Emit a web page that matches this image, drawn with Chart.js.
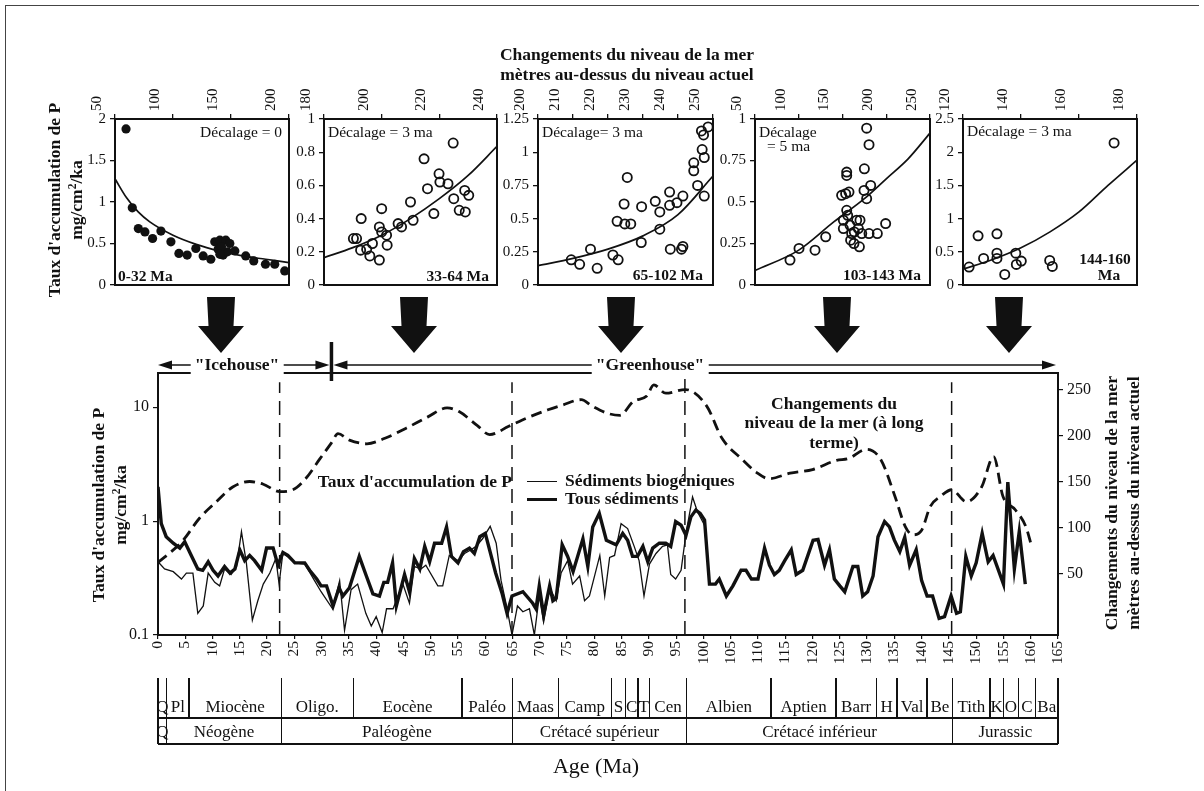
<!DOCTYPE html>
<html lang="fr">
<head>
<meta charset="utf-8">
<title>Taux d'accumulation de P et niveau de la mer</title>
<script src="https://cdn.jsdelivr.net/npm/chart.js@4.4.1/dist/chart.umd.min.js"></script>
<style>
  html, body { margin:0; padding:0; background:#fff; }
  #page { position:relative; width:1204px; height:791px; overflow:hidden; background:#fff;
          font-family:"Liberation Serif","Times New Roman",serif; color:#111; }
  #page canvas { position:absolute; }
  .txt { position:absolute; white-space:nowrap; line-height:1; }
  .bold { font-weight:bold; }
  sup { font-size:0.66em; line-height:0; vertical-align:0.55em; }
  .rule { position:absolute; background:#111; }
  svg.overlay { position:absolute; left:0; top:0; }
</style>
</head>
<body>
<div id="page"></div>
<script>
// ---------- main record: sea level (m) vs age (Ma) ----------
const seaAge = [0,2.1,4.6,7.6,10.7,13.7,16.8,19.3,22.3,24.7,27.2,29.6,31.8,33,35.1,38.3,41.6,45.5,49.4,53,55.2,58.5,60.8,64.3,67.6,71.5,74.1,77.6,79.6,82.5,84.7,87.1,89.6,90.9,93.1,96.7,100.6,103.4,107.1,109.7,112,115.9,120,124.4,126.6,129.9,132.5,135.1,137,138.4,140,141.6,143.5,145.5,148.2,151,153.2,154.9,157.2,159.1,160.1];
const seaLevel = [62,72,86,110,128,144,150,147,139,141,154,174,192,202,195,191,197,208,220,230,226,211,201,210,219,228,233,239,232,224,222,237,243,255,246,250,232,197,174,160,153,159,163,173,175,185,174,134,101,92,97,123,134,141,128,144,177,134,119,101,81];

// ---------- P accumulation rate (mg/cm2/ka), biogenic sediments ----------
const thinAge = [0,1.2,2.8,4.3,5.2,6.4,7.3,8.3,9.2,10.4,11.3,12.2,13.4,14.4,15.3,16.2,17.3,18.3,19.3,20.5,21.6,22.2,22.9,25.1,26.9,28.7,29.9,32.0,33.3,34.2,35.4,36.6,38.1,39.1,40.0,41.1,41.9,43.1,44.0,44.9,46.1,47.0,48.2,49.1,51.3,52.2,53.4,55.0,56.2,57.4,58.3,59.5,60.9,62.0,62.9,63.9,64.9,65.9,66.9,68.1,69.0,69.9,70.7,71.8,73.0,73.9,75.1,76.0,77.3,78.2,79.1,81.0,81.9,82.8,83.7,84.9,86.1,87.3,88.2,89.1,90.1,91.3,92.5,93.4,94.0,94.9,95.9,96.8,98.0,98.9,100.2,101.1];
const thinRate = [0.44,0.38,0.36,0.31,0.35,0.35,0.155,0.18,0.35,0.29,0.27,0.38,0.34,0.40,0.81,0.43,0.135,0.20,0.28,0.35,0.47,0.28,0.53,0.43,0.42,0.30,0.24,0.17,0.30,0.11,0.25,0.28,0.155,0.12,0.145,0.105,0.17,0.17,0.22,0.28,0.19,0.40,0.38,0.41,0.27,0.27,0.50,0.45,0.52,0.56,0.60,0.70,0.90,0.64,0.30,0.18,0.10,0.18,0.16,0.17,0.10,0.22,0.13,0.26,0.20,0.35,0.45,0.28,0.33,0.20,0.22,0.50,0.22,0.48,0.50,0.95,0.86,0.60,0.45,0.22,0.42,0.52,0.60,0.62,0.34,0.31,0.37,0.78,1.63,1.21,0.92,0.28];

// ---------- P accumulation rate (mg/cm2/ka), all sediments ----------
const thickAge = [0,0.6,1.5,2.8,4.0,4.9,6.1,7.3,8.2,9.2,10.1,11.0,12.2,13.2,14.1,15.0,15.9,16.8,17.7,19.0,19.9,21.1,22.0,22.9,23.8,25.1,26.9,27.8,29.1,29.9,30.9,32.1,33.2,33.9,35.1,36.9,38.2,39.4,40.6,41.4,42.1,43.0,43.7,45.2,46.1,47.0,48.0,48.9,49.8,50.7,52.0,52.9,53.8,55.0,56.0,57.1,58.0,59.0,60.0,61.9,63.1,64.0,64.9,66.9,68.7,69.3,69.9,70.7,71.8,72.4,73.0,74.1,75.1,76.1,77.9,78.8,79.7,80.9,82.2,84.0,85.2,86.1,87.0,87.9,88.9,89.8,90.7,91.9,93.1,94.0,94.9,95.9,96.8,97.7,98.6,99.4,100.2,101.1,102.2,102.9,104.2,105.4,106.9,107.8,108.8,110.0,111.2,112.1,113.0,113.9,114.9,116.1,117.0,118.2,120.1,121.0,122.2,123.1,124.0,125.0,125.9,127.4,128.3,129.2,130.1,131.1,132.0,133.2,134.1,135.0,136.0,136.9,137.8,139.0,140.0,141.0,142.0,143.2,144.2,145.4,146.4,147.1,148.1,149.1,150.0,151.1,152.2,153.1,155.0,155.8,157.0,157.9,159.0];
const thickRate = [2.0,0.95,0.73,0.64,0.58,0.66,0.50,0.38,0.37,0.44,0.37,0.33,0.40,0.35,0.38,0.56,0.45,0.50,0.45,0.37,0.58,0.58,0.41,0.53,0.50,0.43,0.43,0.37,0.31,0.27,0.27,0.18,0.26,0.22,0.26,0.49,0.33,0.23,0.22,0.29,0.29,0.43,0.18,0.34,0.24,0.47,0.38,0.60,0.44,0.64,0.64,0.89,0.49,0.43,0.54,0.58,0.52,0.73,0.78,0.35,0.23,0.155,0.22,0.24,0.19,0.17,0.27,0.15,0.27,0.20,0.21,0.62,0.49,0.36,0.70,0.40,0.89,1.17,0.68,0.62,0.78,0.68,0.49,0.49,0.60,0.44,0.58,0.64,0.64,0.60,0.99,0.92,0.75,1.09,1.25,1.17,1.02,0.28,0.28,0.31,0.22,0.27,0.37,0.37,0.31,0.31,0.58,0.41,0.34,0.37,0.45,0.56,0.34,0.37,0.68,0.69,0.41,0.56,0.31,0.27,0.24,0.40,0.40,0.22,0.24,0.33,0.73,0.99,0.89,0.68,0.54,0.72,0.41,0.56,0.30,0.22,0.22,0.14,0.145,0.22,0.155,0.16,0.49,0.33,0.43,0.78,0.44,0.50,0.28,2.2,0.38,0.81,0.28];

// interval boundaries marked by dashed verticals, and icehouse / greenhouse switch (Ma)
const eraBoundaries = [22.3, 64.9, 96.6, 145.5];
const climateShiftAge = 31.8;

// ---------- geological time scale ----------
const stageBounds = [0,1.6,5.7,22.6,35.8,55.7,65,73.4,83.1,85.7,88,90.1,96.9,112.4,124.3,131.7,135.5,141,145.7,152.5,155,157.7,160.9,165];
const stageNames = ['Q','Pl','Miocène','Oligo.','Eocène','Paléo','Maas','Camp','S','C','T','Cen','Albien','Aptien','Barr','H','Val','Be','Tith','K','O','C','Ba'];
const periodBounds = [0,1.6,22.6,65,96.9,145.7,165];
const periodNames = ['Q','Néogène','Paléogène','Crétacé supérieur','Crétacé inférieur','Jurassic'];

// ---------- scatter panels: sea level (m) vs P rate ----------
const p1Sea  = [59.5,64.9,70.1,75.8,82.4,89.6,98.2,105.1,112.2,119.7,126.0,132.6,136.0,140.4,145.5,149.0,138.9,143.2,146.9,141.8,140.4,153.3,162.7,169.6,179.7,187.7,196.3];
const p1Rate = [1.88,0.93,0.68,0.64,0.56,0.65,0.52,0.38,0.36,0.44,0.35,0.31,0.52,0.54,0.54,0.50,0.43,0.36,0.40,0.46,0.37,0.41,0.35,0.29,0.25,0.25,0.17];
const p1FitSea  = [50,60,70,80,100,120,140,160,180,200];
const p1FitRate = [1.28,1.05,0.88,0.76,0.60,0.49,0.41,0.35,0.31,0.27];

const p2Sea  = [190.2,191.3,192.9,192.7,194.8,195.9,196.8,199.2,199.2,200.0,200.0,201.7,201.9,205.7,206.9,210.0,210.9,214.7,215.9,218.1,219.9,220.2,223.0,224.8,225.0,226.9,228.8,229.0,230.2];
const p2Rate = [0.28,0.28,0.40,0.21,0.215,0.175,0.25,0.15,0.35,0.46,0.32,0.30,0.24,0.37,0.35,0.50,0.39,0.76,0.58,0.43,0.67,0.62,0.61,0.855,0.52,0.45,0.57,0.44,0.54];
const p2FitSea  = [180,190,200,210,220,230,240];
const p2FitRate = [0.165,0.225,0.30,0.40,0.52,0.66,0.835];

const p3Sea  = [209.5,211.9,215.0,216.9,221.4,222.9,222.6,224.6,224.8,225.5,226.5,229.6,229.5,233.5,234.8,234.8,237.6,237.6,237.8,239.7,241.0,241.4,241.4,244.5,244.5,245.6,246.9,246.7,247.3,247.5,247.5,248.6];
const p3Rate = [0.19,0.156,0.27,0.126,0.226,0.19,0.48,0.61,0.46,0.81,0.46,0.59,0.32,0.63,0.55,0.42,0.70,0.60,0.27,0.62,0.27,0.67,0.29,0.92,0.86,0.75,1.02,1.16,1.13,0.96,0.67,1.19];
const p3FitSea  = [200,210,220,230,240,250];
const p3FitRate = [0.146,0.20,0.27,0.37,0.53,0.82];

const p4Sea  = [90,100.3,118.6,130.8,149,154.8,154.8,153.6,157.4,151,151,154.8,155.9,158.6,160.5,159.3,163.1,163.5,166.2,168.1,169.3,170,172,175,177.6,174.6,177.6,180.3,180.3,182.2,189.8,199.3];
const p4Rate = [0.15,0.22,0.21,0.29,0.54,0.68,0.66,0.55,0.56,0.34,0.39,0.45,0.42,0.36,0.31,0.27,0.25,0.32,0.39,0.34,0.23,0.39,0.31,0.70,0.945,0.57,0.52,0.845,0.31,0.60,0.31,0.37];
const p4FitSea  = [50,100,140,175,200,225,250];
const p4FitRate = [0.087,0.21,0.38,0.52,0.64,0.76,0.915];

const p5Sea  = [122.1,125.2,127.1,131.7,131.7,131.7,134.4,138.2,138.4,140.1,149.9,150.8,172.1];
const p5Rate = [0.27,0.74,0.40,0.77,0.48,0.40,0.16,0.48,0.31,0.36,0.37,0.28,2.14];
const p5FitSea  = [120,130,140,150,160,170,180];
const p5FitRate = [0.24,0.38,0.56,0.80,1.10,1.50,1.88];

// ---------- drawing ----------
const page = document.getElementById('page');
const INK = '#111';
Chart.defaults.font.family = "'Liberation Serif', 'Times New Roman', serif";
Chart.defaults.font.size = 15;
Chart.defaults.color = INK;

function addText(html, x, y, o = {}) {
  const el = document.createElement('div');
  el.className = 'txt' + (o.bold ? ' bold' : '');
  el.innerHTML = html;
  el.style.left = x + 'px';
  el.style.top = y + 'px';
  el.style.fontSize = (o.size || 17) + 'px';
  const ax = o.align === 'left' ? '0' : o.align === 'right' ? '-100%' : '-50%';
  el.style.transform = `translate(${ax}, -50%)` + (o.rot ? ' rotate(-90deg)' : '');
  if (o.bg) { el.style.background = o.bg; el.style.padding = '0 4px'; }
  el.style.zIndex = 5;
  page.appendChild(el);
  return el;
}
function addRule(x, y, w, h) {
  const el = document.createElement('div');
  el.className = 'rule';
  Object.assign(el.style, { left: x + 'px', top: y + 'px', width: w + 'px', height: h + 'px' });
  page.appendChild(el);
  return el;
}
function addCanvas(x, y, w, h) {
  const c = document.createElement('canvas');
  c.width = w; c.height = h;
  Object.assign(c.style, { left: x + 'px', top: y + 'px', width: w + 'px', height: h + 'px' });
  page.appendChild(c);
  return c;
}
const pts = (xs, ys) => xs.map((v, i) => ({ x: v, y: ys[i] }));
const zeroPad = s => { s.paddingLeft = 0; s.paddingRight = 0; s.paddingTop = 0; s.paddingBottom = 0; };
const plainNum = v => String(Math.round(v * 1000) / 1000);

// box around the plotting area
const framePlugin = {
  id: 'frame',
  afterDraw(chart) {
    const a = chart.chartArea, ctx = chart.ctx;
    ctx.save();
    ctx.lineWidth = 2;
    ctx.strokeStyle = INK;
    ctx.strokeRect(a.left, a.top, a.right - a.left, a.bottom - a.top);
    ctx.restore();
  }
};

// ---- five small scatter panels ----
function makePanel(frame, xr, yr, sea, rate, fitSea, fitRate, filled) {
  const [L, T, R, B] = frame;
  const AX = 45, PAD = 10;
  const cv = addCanvas(L - AX, T - AX, R - L + AX + PAD, B - T + AX + PAD);
  return new Chart(cv, {
    type: 'scatter',
    data: {
      datasets: [
        { data: pts(sea, rate), pointRadius: 4.6, pointHoverRadius: 4.6,
          pointBackgroundColor: filled ? INK : 'rgba(0,0,0,0)', pointBorderColor: INK,
          pointBorderWidth: filled ? 0 : 1.8, clip: false },
        { type: 'line', data: pts(fitSea, fitRate), borderColor: INK, borderWidth: 1.7,
          pointRadius: 0, cubicInterpolationMode: 'monotone', fill: false }
      ]
    },
    options: {
      responsive: false, animation: false,
      layout: { padding: { left: 0, top: 0, right: PAD, bottom: PAD } },
      plugins: { legend: { display: false }, tooltip: { enabled: false } },
      scales: {
        x: { type: 'linear', position: 'top', min: xr[0], max: xr[1],
             ticks: { stepSize: xr[2], minRotation: 90, maxRotation: 90, autoSkip: false, padding: 3,
                      callback: plainNum },
             grid: { drawOnChartArea: false, tickLength: 5, color: INK, lineWidth: 1.3 },
             border: { display: false },
             afterFit(s) { s.height = AX; zeroPad(s); } },
        y: { type: 'linear', min: yr[0], max: yr[1],
             ticks: { stepSize: yr[2], padding: 4, callback: plainNum },
             grid: { drawOnChartArea: false, tickLength: 5, color: INK, lineWidth: 1.3 },
             border: { display: false },
             afterFit(s) { s.width = AX; zeroPad(s); } }
      }
    },
    plugins: [framePlugin]
  });
}

makePanel([115, 119, 289, 285], [50, 200, 50], [0, 2, 0.5], p1Sea, p1Rate, p1FitSea, p1FitRate, true);
makePanel([324, 119, 497, 285], [180, 240, 20], [0, 1, 0.2], p2Sea, p2Rate, p2FitSea, p2FitRate, false);
makePanel([538, 119, 713, 285], [200, 250, 10], [0, 1.25, 0.25], p3Sea, p3Rate, p3FitSea, p3FitRate, false);
makePanel([755, 119, 930, 285], [50, 250, 50], [0, 1, 0.25], p4Sea, p4Rate, p4FitSea, p4FitRate, false);
makePanel([963, 119, 1137, 285], [120, 180, 20], [0, 2.5, 0.5], p5Sea, p5Rate, p5FitSea, p5FitRate, false);

// panel annotations
addText('Décalage = 0', 282, 132, { size: 15.5, align: 'right' });
addText('Décalage = 3 ma', 328, 132, { size: 15.5, align: 'left' });
addText('Décalage= 3 ma', 542, 132, { size: 15.5, align: 'left' });
addText('Décalage', 759, 132, { size: 15.5, align: 'left' });
addText('= 5 ma', 767, 146, { size: 15.5, align: 'left' });
addText('Décalage = 3 ma', 967, 131, { size: 15.5, align: 'left' });
addText('0-32 Ma', 118, 276, { size: 15.5, bold: true, align: 'left' });
addText('33-64 Ma', 489, 276, { size: 15.5, bold: true, align: 'right' });
addText('65-102 Ma', 703, 275, { size: 15.5, bold: true, align: 'right' });
addText('103-143 Ma', 921, 275, { size: 15.5, bold: true, align: 'right' });
addText('144-160', 1105, 259, { size: 15.5, bold: true });
addText('Ma', 1109, 275, { size: 15.5, bold: true });

// headers
addText('Changements du niveau de la mer', 627, 55, { size: 17.5, bold: true });
addText('mètres au-dessus du niveau actuel', 627, 75, { size: 17.5, bold: true });
addText("Taux d'accumulation de P", 55, 200, { size: 17.5, bold: true, rot: true });
addText('mg/cm<sup>2</sup>/ka', 77, 200, { size: 17.5, bold: true, rot: true });

// ---- main record ----
const MAIN = { x: 0, y: 335, w: 1204, h: 345 };
const PLOT = { L: 158, T: 373, R: 1058, B: 635 };
const YW = 50, Y2W = 46, XH = 40;
const mainCanvas = addCanvas(MAIN.x, MAIN.y, MAIN.w, MAIN.h);

const eraLines = eraBoundaries.map(a => ({
  data: [{ x: a, y: -17 }, { x: a, y: a > 90 && a < 100 ? 266 : 258 }],
  yAxisID: 'y2', borderColor: INK, borderWidth: 1.5, borderDash: [14, 8],
  pointRadius: 0, tension: 0, fill: false
}));

const mainChart = new Chart(mainCanvas, {
  type: 'line',
  data: {
    datasets: [
      { label: 'Sédiments biogéniques', data: pts(thinAge, thinRate), yAxisID: 'y',
        borderColor: INK, borderWidth: 1.3, pointRadius: 0, tension: 0, borderJoinStyle: 'miter' },
      { label: 'Tous sédiments', data: pts(thickAge, thickRate), yAxisID: 'y',
        borderColor: INK, borderWidth: 3.4, pointRadius: 0, tension: 0, borderJoinStyle: 'miter' },
      { label: 'Changements du niveau de la mer', data: pts(seaAge, seaLevel), yAxisID: 'y2',
        borderColor: INK, borderWidth: 2.8, borderDash: [11, 6], pointRadius: 0,
        cubicInterpolationMode: 'monotone' },
      ...eraLines
    ]
  },
  options: {
    responsive: false, animation: false,
    layout: { padding: { left: PLOT.L - YW, top: PLOT.T - MAIN.y,
                         right: MAIN.w - PLOT.R - Y2W, bottom: MAIN.h - (PLOT.B - MAIN.y) - XH } },
    plugins: { legend: { display: false }, tooltip: { enabled: false } },
    scales: {
      x: { type: 'linear', min: 0, max: 165,
           ticks: { stepSize: 5, minRotation: 90, maxRotation: 90, autoSkip: false, padding: 2,
                    font: { size: 15.5 } },
           grid: { drawOnChartArea: false, tickLength: 4, color: INK, lineWidth: 1.2 },
           border: { display: false },
           afterFit(s) { s.height = XH; zeroPad(s); } },
      y: { type: 'logarithmic', position: 'left', min: 0.1, max: 20,
           afterBuildTicks(s) { s.ticks = [0.1, 1, 10].map(v => ({ value: v })); },
           ticks: { callback: v => String(v), padding: 4, font: { size: 16 } },
           grid: { drawOnChartArea: false, tickLength: 5, color: INK, lineWidth: 1.2 },
           border: { display: false },
           afterFit(s) { s.width = YW; zeroPad(s); } },
      y2: { type: 'linear', position: 'right', min: -17, max: 268,
            afterBuildTicks(s) { s.ticks = [50, 100, 150, 200, 250].map(v => ({ value: v })); },
            ticks: { padding: 4, font: { size: 16 } },
            grid: { drawOnChartArea: false, tickLength: 5, color: INK, lineWidth: 1.2 },
            border: { display: false },
            afterFit(s) { s.width = Y2W; zeroPad(s); } }
    }
  },
  plugins: [framePlugin]
});

const xScale = mainChart.scales.x;
const ageX = a => MAIN.x + xScale.getPixelForValue(a);

// axis titles and in-plot labels
addText("Taux d'accumulation de P", 99, 505, { size: 17.5, bold: true, rot: true });
addText('mg/cm<sup>2</sup>/ka', 121, 505, { size: 17.5, bold: true, rot: true });
addText('Changements du niveau de la mer', 1112, 503, { size: 17.5, bold: true, rot: true });
addText('mètres au-dessus du niveau actuel', 1134, 503, { size: 17.5, bold: true, rot: true });
addText("Taux d'accumulation de P", 512, 482, { size: 17.5, bold: true, align: 'right' });
addText('Changements du', 834, 404, { size: 17.5, bold: true });
addText('niveau de la mer (à long', 834, 423, { size: 17.5, bold: true });
addText('terme)', 834, 443, { size: 17.5, bold: true });

// legend
addRule(527, 481, 30, 1.4);
addRule(527, 497.5, 30, 3.5);
addText('Sédiments biogéniques', 565, 481, { size: 17.5, bold: true, align: 'left' });
addText('Tous sédiments', 565, 499, { size: 17.5, bold: true, align: 'left' });

// ---- arrows: big downward arrows and icehouse / greenhouse span ----
const NS = 'http://www.w3.org/2000/svg';
const svg = document.createElementNS(NS, 'svg');
svg.setAttribute('class', 'overlay');
svg.setAttribute('width', 1204);
svg.setAttribute('height', 791);
svg.style.zIndex = 3;
page.appendChild(svg);
function poly(points) {
  const p = document.createElementNS(NS, 'polygon');
  p.setAttribute('points', points.map(q => q.join(',')).join(' '));
  p.setAttribute('fill', INK);
  svg.appendChild(p);
}
function seg(x1, y1, x2, y2, w) {
  const l = document.createElementNS(NS, 'line');
  l.setAttribute('x1', x1); l.setAttribute('y1', y1);
  l.setAttribute('x2', x2); l.setAttribute('y2', y2);
  l.setAttribute('stroke', INK); l.setAttribute('stroke-width', w);
  svg.appendChild(l);
}
[221, 414, 621, 837, 1009].forEach(cx => {
  poly([[cx - 14, 297], [cx + 14, 297], [cx + 12.5, 326], [cx + 23, 326], [cx, 353],
        [cx - 23, 326], [cx - 12.5, 326]]);
});
const yArrow = 365;
const x0 = ageX(0), xs = ageX(climateShiftAge), x1 = ageX(165);
seg(x0 + 10, yArrow, xs - 10, yArrow, 1.6);
seg(xs + 10, yArrow, x1 - 10, yArrow, 1.6);
poly([[x0, yArrow], [x0 + 14, yArrow - 4.5], [x0 + 14, yArrow + 4.5]]);
poly([[xs - 2, yArrow], [xs - 16, yArrow - 4.5], [xs - 16, yArrow + 4.5]]);
poly([[xs + 2, yArrow], [xs + 16, yArrow - 4.5], [xs + 16, yArrow + 4.5]]);
poly([[x1 - 2, yArrow], [x1 - 16, yArrow - 4.5], [x1 - 16, yArrow + 4.5]]);
seg(xs, 342, xs, 381, 3.5);
addText('"Icehouse"', 237, yArrow, { size: 17.5, bold: true, bg: '#fff' });
addText('"Greenhouse"', 650, yArrow, { size: 17.5, bold: true, bg: '#fff' });

// ---- geological time scale under the age axis ----
const T0 = 678, TM = 718, TB = 744;
stageBounds.forEach(b => addRule(ageX(b) - 0.6, T0, 1.3, TM - T0));
periodBounds.forEach(b => addRule(ageX(b) - 0.6, TM, 1.3, TB - TM));
addRule(ageX(0), TM - 0.6, ageX(165) - ageX(0), 1.3);
addRule(ageX(0), TB - 0.6, ageX(165) - ageX(0), 1.3);
stageNames.forEach((n, i) => {
  addText(n, (ageX(stageBounds[i]) + ageX(stageBounds[i + 1])) / 2, 706, { size: 17 });
});
periodNames.forEach((n, i) => {
  addText(n, (ageX(periodBounds[i]) + ageX(periodBounds[i + 1])) / 2, 731, { size: 17 });
});
addText('Age (Ma)', 596, 766, { size: 22 });

// page border
addRule(5, 5, 1194, 1.2).style.background = '#444';
addRule(5, 5, 1.2, 786).style.background = '#444';
</script>
</body>
</html>
